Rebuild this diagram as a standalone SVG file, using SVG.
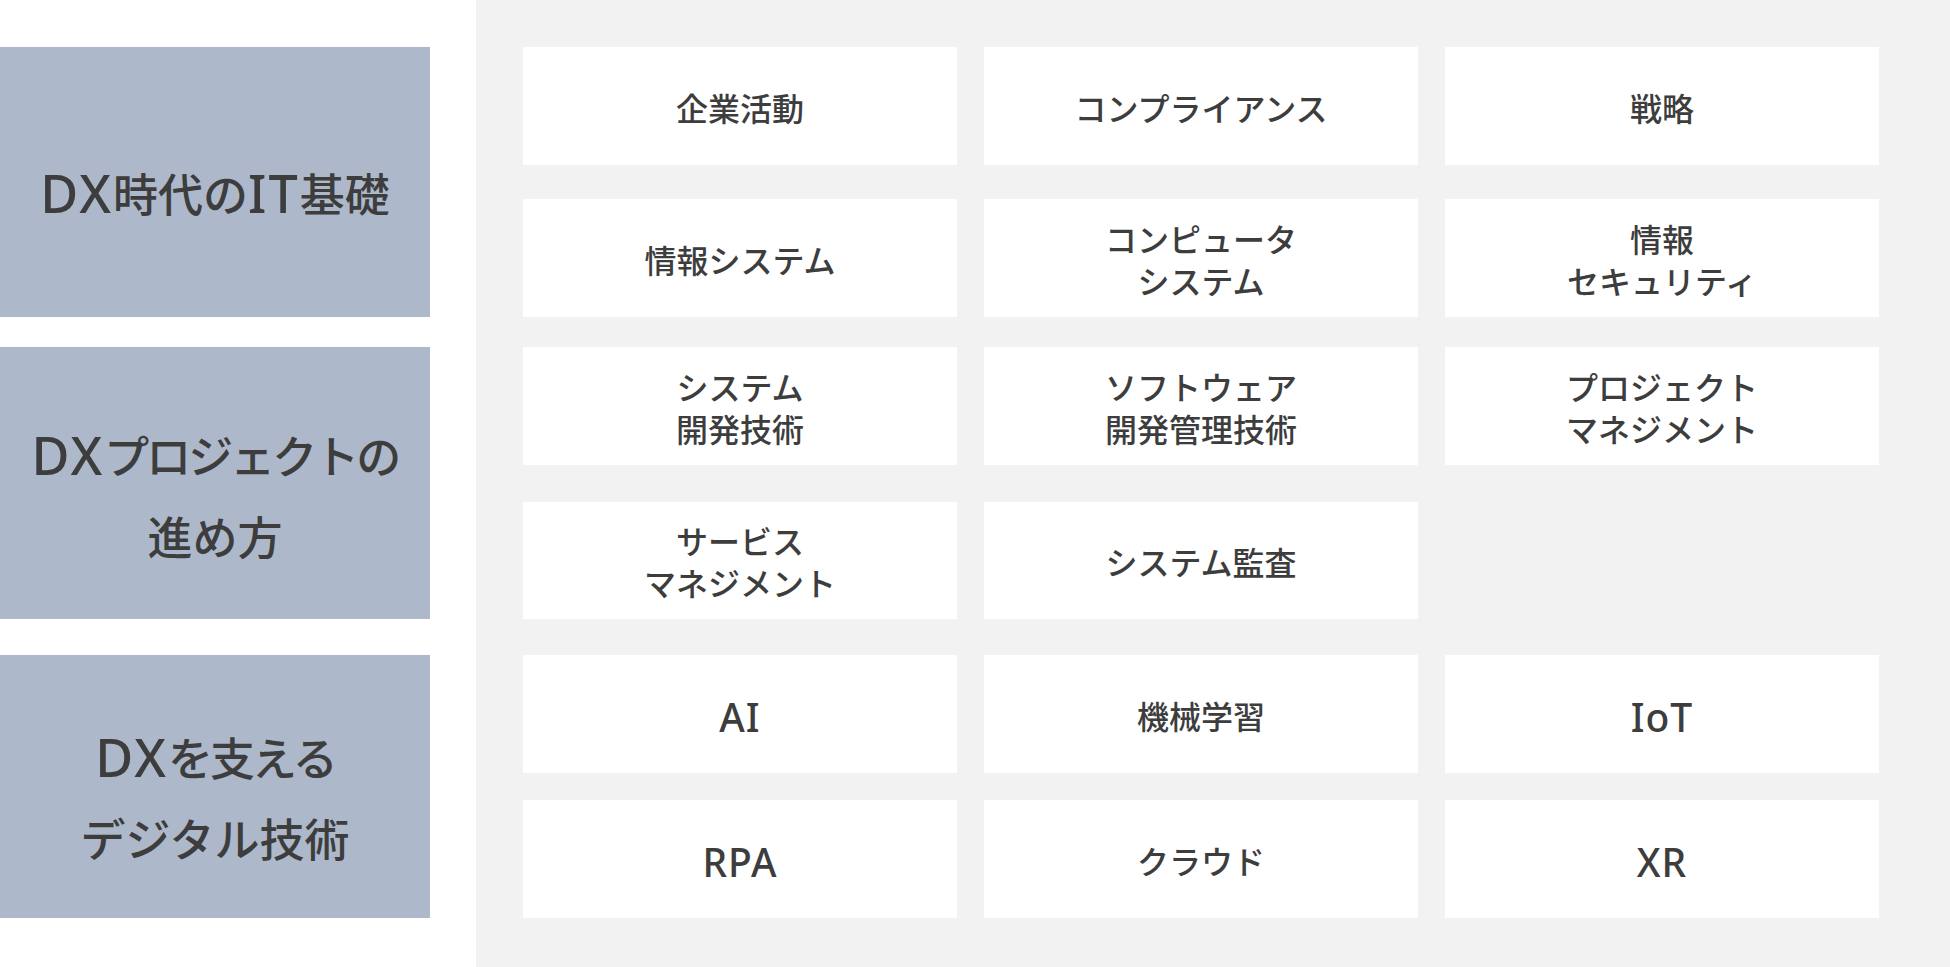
<svg xmlns="http://www.w3.org/2000/svg" width="1950" height="967" viewBox="0 0 1950 967">
<style>
.cat{fill:#adb9ca}
.cell{fill:#ffffff}
text{font-family:"Noto Sans CJK JP","Noto Sans",sans-serif;fill:#3d3d3d;text-anchor:middle;dominant-baseline:central;font-weight:500}
.lt{font-size:45px}
.ct{font-size:32px}
.ctl{font-family:"Noto Sans","DejaVu Sans",sans-serif;font-size:39px;letter-spacing:1px}
.lat{font-family:"Noto Sans","DejaVu Sans",sans-serif;font-size:52px;letter-spacing:2px}
.tight{letter-spacing:-3px}
</style>
<rect x="0" y="0" width="1950" height="967" fill="#ffffff"/>
<rect x="476" y="0" width="1474" height="967" fill="#f2f2f2"/>
<g id="cat1"><rect class="cat" x="0" y="47" width="430" height="270"/><text class="lt" x="215" y="192"><tspan class="lat">DX</tspan>時代の<tspan class="lat">IT</tspan>基礎</text></g>
<g id="cat2"><rect class="cat" x="0" y="347" width="430" height="272"/><text class="lt" x="215" y="454"><tspan class="lat">DX</tspan><tspan class="tight">プロジェクトの</tspan></text><text class="lt" x="215" y="535">進め方</text></g>
<g id="cat3"><rect class="cat" x="0" y="655" width="430" height="263"/><text class="lt" x="215" y="756"><tspan class="lat">DX</tspan><tspan class="tight">を支える</tspan></text><text class="lt" x="215" y="837">デジタル技術</text></g>
<g id="c11"><rect class="cell" x="523" y="47" width="434" height="118"/><text class="ct" x="740" y="107">企業活動</text></g>
<g id="c12"><rect class="cell" x="984" y="47" width="434" height="118"/><text class="ct" x="1201" y="107">コンプライアンス</text></g>
<g id="c13"><rect class="cell" x="1445" y="47" width="434" height="118"/><text class="ct" x="1662" y="107">戦略</text></g>
<g id="c21"><rect class="cell" x="523" y="199" width="434" height="118"/><text class="ct" x="740" y="259">情報システム</text></g>
<g id="c22"><rect class="cell" x="984" y="199" width="434" height="118"/><text class="ct" x="1201" y="238">コンピュータ</text><text class="ct" x="1201" y="280">システム</text></g>
<g id="c23"><rect class="cell" x="1445" y="199" width="434" height="118"/><text class="ct" x="1662" y="238">情報</text><text class="ct" x="1662" y="280">セキュリティ</text></g>
<g id="c31"><rect class="cell" x="523" y="347" width="434" height="118"/><text class="ct" x="740" y="386">システム</text><text class="ct" x="740" y="428">開発技術</text></g>
<g id="c32"><rect class="cell" x="984" y="347" width="434" height="118"/><text class="ct" x="1201" y="386">ソフトウェア</text><text class="ct" x="1201" y="428">開発管理技術</text></g>
<g id="c33"><rect class="cell" x="1445" y="347" width="434" height="118"/><text class="ct" x="1662" y="386">プロジェクト</text><text class="ct" x="1662" y="428">マネジメント</text></g>
<g id="c41"><rect class="cell" x="523" y="502" width="434" height="117"/><text class="ct" x="740" y="540">サービス</text><text class="ct" x="740" y="582">マネジメント</text></g>
<g id="c42"><rect class="cell" x="984" y="502" width="434" height="117"/><text class="ct" x="1201" y="561">システム監査</text></g>
<g id="c51"><rect class="cell" x="523" y="655" width="434" height="118"/><text class="ctl" x="740" y="716">AI</text></g>
<g id="c52"><rect class="cell" x="984" y="655" width="434" height="118"/><text class="ct" x="1201" y="715">機械学習</text></g>
<g id="c53"><rect class="cell" x="1445" y="655" width="434" height="118"/><text class="ctl" x="1662" y="716">IoT</text></g>
<g id="c61"><rect class="cell" x="523" y="800" width="434" height="118"/><text class="ctl" x="740" y="861">RPA</text></g>
<g id="c62"><rect class="cell" x="984" y="800" width="434" height="118"/><text class="ct" x="1201" y="860">クラウド</text></g>
<g id="c63"><rect class="cell" x="1445" y="800" width="434" height="118"/><text class="ctl" x="1662" y="861">XR</text></g>
<g id="connectors"/>
</svg>
